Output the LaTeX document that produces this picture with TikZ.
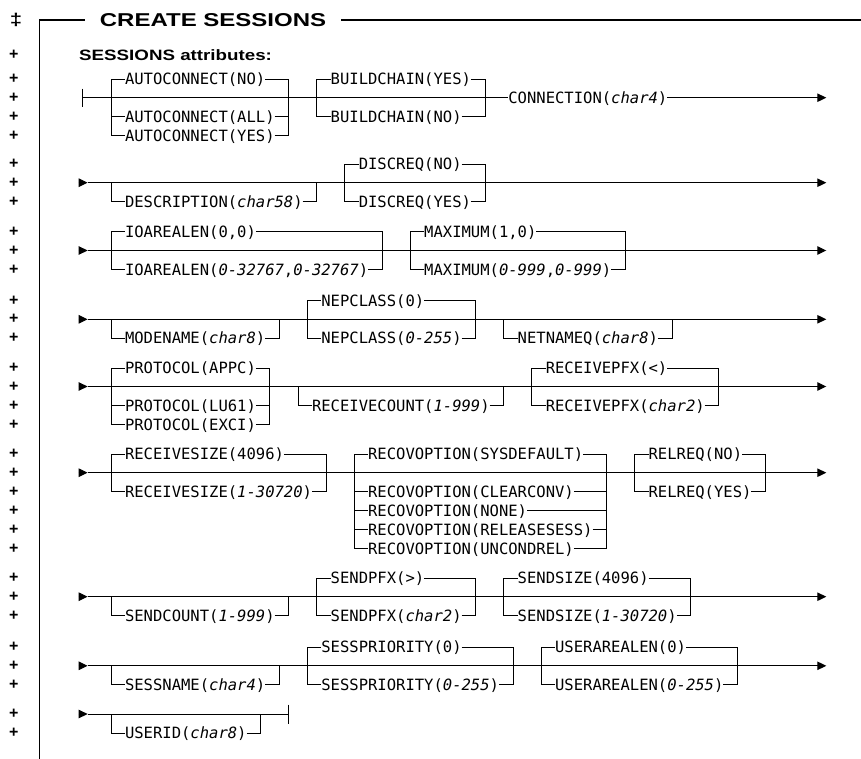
\documentclass[tikz,border=0pt]{standalone}
\usepackage{fontspec}
\usepackage{graphicx}
\usepackage{tikz}
\usetikzlibrary{arrows.meta}
\newfontfamily\railfont{DejaVu Sans Mono}
\newfontfamily\headfont{Liberation Sans}
\tikzset{
  rail/.style={draw=black,line width=1pt},
  frame/.style={draw=black,line width=1.6pt},
  opt/.style={font=\railfont\fontsize{15.53}{18}\selectfont,inner sep=0pt,outer sep=0pt,
    text height=11.3pt,text depth=0pt,anchor=west},
  chg/.style={font=\headfont\bfseries\fontsize{16}{18}\selectfont,inner sep=0pt,
    text height=9pt,text depth=0pt},
  endtip/.style={-{Triangle[length=9pt,width=8.5pt]}}
}

\begin{document}
\begin{tikzpicture}[x=9.35pt,y=-1pt]
        \useasboundingbox (-11.8717,0) rectangle (80.2139,759);
        \node[inner xsep=15pt,inner ysep=0pt,text height=13.3pt,text depth=0pt,
          font=\headfont\bfseries\fontsize{18.6}{22}\selectfont] (title) at (10.909,20.3)
          {\scalebox{1.29}[1]{CREATE SESSIONS}};
        \coordinate (fbot) at (-7.668,759);
        \coordinate (fend) at (80.2139,20.3);
        \draw[frame] (fbot) |- (title);
        \draw[frame] (title) -- (fend);
        \node[inner sep=0pt,text height=12pt,text depth=0pt,
          font=\headfont\bfseries\fontsize{17}{19}\selectfont] (dd) at (-10.16,19.5) {\scalebox{1.3}[1]{‡}};
        \foreach \y [count=\i] in {55,79.2,97.7,116.7,135.7,164.2,182.7,201.7,232,250.5,269.5,
          300.8,319.3,338.3,368,386.5,405.5,424.5,454.2,472.7,491.7,510.7,529.7,548.7,
          578.2,596.7,615.7,647.3,665.8,684.8,714,733}
          \node[chg] (pl\i) at (-10.4,\y) {+};
        \node[anchor=base west,inner sep=0pt,font=\headfont\bfseries\fontsize{15}{18}\selectfont]
          (sub) at (-3.42,60.7) {\scalebox{1.25}[1]{SESSIONS attributes:}};

        \coordinate (r1s) at (-3,97.7);
        \coordinate (r1e) at (76.5,97.7);
        \coordinate (acL) at (0,97.7);
        \coordinate (acR) at (19,97.7);
        \coordinate (bcL) at (22,97.7);
        \coordinate (bcR) at (40,97.7);
        \node[opt] (acNO) at (1.5,79.2) {AUTOCONNECT(NO)};
        \node[opt] (acALL) at (1.5,116.7) {AUTOCONNECT(ALL)};
        \node[opt] (acYES) at (1.5,135.7) {AUTOCONNECT(YES)};
        \node[opt] (bcYES) at (23.5,79.2) {BUILDCHAIN(YES)};
        \node[opt] (bcNO) at (23.5,116.7) {BUILDCHAIN(NO)};
        \node[opt] (conn) at (42.5,97.7) {CONNECTION(\textit{char4})};
        \draw[rail] ([yshift=9pt]r1s) -- ([yshift=-9pt]r1s);
        \draw[rail,endtip] (r1s) -- (conn) -- (r1e);

        \coordinate (r2a) at (-3.46,182.7);
        \coordinate (r2s) at (-2.5,182.7);
        \coordinate (r2e) at (76.5,182.7);
        \coordinate (deL) at (0,182.7);
        \coordinate (deR) at (22,182.7);
        \coordinate (dqL) at (25,182.7);
        \coordinate (dqR) at (40,182.7);
        \node[opt] (deVAL) at (1.5,201.7) {DESCRIPTION(\textit{char58})};
        \node[opt] (dqNO) at (26.5,164.2) {DISCREQ(NO)};
        \node[opt] (dqYES) at (26.5,201.7) {DISCREQ(YES)};

        \coordinate (r3a) at (-3.46,250.5);
        \coordinate (r3s) at (-2.5,250.5);
        \coordinate (r3e) at (76.5,250.5);
        \coordinate (ioL) at (0,250.5);
        \coordinate (ioR) at (29,250.5);
        \coordinate (mxL) at (32,250.5);
        \coordinate (mxR) at (55,250.5);
        \node[opt] (ioDEF) at (1.5,232) {IOAREALEN(0,0)};
        \node[opt] (ioVAL) at (1.5,269.5) {IOAREALEN(\textit{0-32767},\textit{0-32767})};
        \node[opt] (mxDEF) at (33.5,232) {MAXIMUM(1,0)};
        \node[opt] (mxVAL) at (33.5,269.5) {MAXIMUM(\textit{0-999},\textit{0-999})};

        \coordinate (r4a) at (-3.46,319.3);
        \coordinate (r4s) at (-2.5,319.3);
        \coordinate (r4e) at (76.5,319.3);
        \coordinate (mnL) at (0,319.3);
        \coordinate (mnR) at (18,319.3);
        \coordinate (ncL) at (21,319.3);
        \coordinate (ncR) at (39,319.3);
        \coordinate (nqL) at (42,319.3);
        \coordinate (nqR) at (60,319.3);
        \node[opt] (mnVAL) at (1.5,338.3) {MODENAME(\textit{char8})};
        \node[opt] (ncDEF) at (22.5,300.8) {NEPCLASS(0)};
        \node[opt] (ncVAL) at (22.5,338.3) {NEPCLASS(\textit{0-255})};
        \node[opt] (nqVAL) at (43.5,338.3) {NETNAMEQ(\textit{char8})};

        \coordinate (r5a) at (-3.46,386.5);
        \coordinate (r5s) at (-2.5,386.5);
        \coordinate (r5e) at (76.5,386.5);
        \coordinate (prL) at (0,386.5);
        \coordinate (prR) at (17,386.5);
        \coordinate (rcL) at (20,386.5);
        \coordinate (rcR) at (42,386.5);
        \coordinate (rpL) at (45,386.5);
        \coordinate (rpR) at (65,386.5);
        \node[opt] (prAPPC) at (1.5,368) {PROTOCOL(APPC)};
        \node[opt] (prLU) at (1.5,405.5) {PROTOCOL(LU61)};
        \node[opt] (prEXCI) at (1.5,424.5) {PROTOCOL(EXCI)};
        \node[opt] (rcVAL) at (21.5,405.5) {RECEIVECOUNT(\textit{1-999})};
        \node[opt] (rpDEF) at (46.5,368) {RECEIVEPFX(<)};
        \node[opt] (rpVAL) at (46.5,405.5) {RECEIVEPFX(\textit{char2})};

        \coordinate (r6a) at (-3.46,472.7);
        \coordinate (r6s) at (-2.5,472.7);
        \coordinate (r6e) at (76.5,472.7);
        \coordinate (rsL) at (0,472.7);
        \coordinate (rsR) at (23,472.7);
        \coordinate (roL) at (26,472.7);
        \coordinate (roR) at (53,472.7);
        \coordinate (rlL) at (56,472.7);
        \coordinate (rlR) at (70,472.7);
        \node[opt] (rsDEF) at (1.5,454.2) {RECEIVESIZE(4096)};
        \node[opt] (rsVAL) at (1.5,491.7) {RECEIVESIZE(\textit{1-30720})};
        \node[opt] (roSYS) at (27.5,454.2) {RECOVOPTION(SYSDEFAULT)};
        \node[opt] (roCLR) at (27.5,491.7) {RECOVOPTION(CLEARCONV)};
        \node[opt] (roNONE) at (27.5,510.7) {RECOVOPTION(NONE)};
        \node[opt] (roREL) at (27.5,529.7) {RECOVOPTION(RELEASESESS)};
        \node[opt] (roUNC) at (27.5,548.7) {RECOVOPTION(UNCONDREL)};
        \node[opt] (rlNO) at (57.5,454.2) {RELREQ(NO)};
        \node[opt] (rlYES) at (57.5,491.7) {RELREQ(YES)};

        \coordinate (r7a) at (-3.46,596.7);
        \coordinate (r7s) at (-2.5,596.7);
        \coordinate (r7e) at (76.5,596.7);
        \coordinate (scL) at (0,596.7);
        \coordinate (scR) at (19,596.7);
        \coordinate (spL) at (22,596.7);
        \coordinate (spR) at (39,596.7);
        \coordinate (ssL) at (42,596.7);
        \coordinate (ssR) at (62,596.7);
        \node[opt] (scVAL) at (1.5,615.7) {SENDCOUNT(\textit{1-999})};
        \node[opt] (spDEF) at (23.5,578.2) {SENDPFX(>)};
        \node[opt] (spVAL) at (23.5,615.7) {SENDPFX(\textit{char2})};
        \node[opt] (ssDEF) at (43.5,578.2) {SENDSIZE(4096)};
        \node[opt] (ssVAL) at (43.5,615.7) {SENDSIZE(\textit{1-30720})};

        \coordinate (r8a) at (-3.46,665.8);
        \coordinate (r8s) at (-2.5,665.8);
        \coordinate (r8e) at (76.5,665.8);
        \coordinate (snL) at (0,665.8);
        \coordinate (snR) at (18,665.8);
        \coordinate (pyL) at (21,665.8);
        \coordinate (pyR) at (43,665.8);
        \coordinate (uaL) at (46,665.8);
        \coordinate (uaR) at (67,665.8);
        \node[opt] (snVAL) at (1.5,684.8) {SESSNAME(\textit{char4})};
        \node[opt] (pyDEF) at (22.5,647.3) {SESSPRIORITY(0)};
        \node[opt] (pyVAL) at (22.5,684.8) {SESSPRIORITY(\textit{0-255})};
        \node[opt] (uaDEF) at (47.5,647.3) {USERAREALEN(0)};
        \node[opt] (uaVAL) at (47.5,684.8) {USERAREALEN(\textit{0-255})};

        \coordinate (r9a) at (-3.46,714);
        \coordinate (r9s) at (-2.5,714);
        \coordinate (r9e) at (19,714);
        \coordinate (uiL) at (0,714);
        \coordinate (uiR) at (16,714);
        \node[opt] (uiVAL) at (1.5,733) {USERID(\textit{char8})};
        \draw[rail] ([yshift=9.5pt]r9e) -- ([yshift=-9.5pt]r9e);
        \draw[rail] (r9s) -- (r9e);

        \foreach \r in {2,...,9}
          \draw[rail,endtip] (r\r a) -- (r\r s);
        \foreach \r in {2,...,8}
          \draw[rail,endtip] (r\r s) -- (r\r e);
        \foreach \n/\a/\b in {acNO/acL/acR,acALL/acL/acR,acYES/acL/acR,bcYES/bcL/bcR,bcNO/bcL/bcR,
          deVAL/deL/deR,dqNO/dqL/dqR,dqYES/dqL/dqR,ioDEF/ioL/ioR,ioVAL/ioL/ioR,mxDEF/mxL/mxR,mxVAL/mxL/mxR,
          mnVAL/mnL/mnR,ncDEF/ncL/ncR,ncVAL/ncL/ncR,nqVAL/nqL/nqR,
          prAPPC/prL/prR,prLU/prL/prR,prEXCI/prL/prR,rcVAL/rcL/rcR,rpDEF/rpL/rpR,rpVAL/rpL/rpR,
          rsDEF/rsL/rsR,rsVAL/rsL/rsR,roSYS/roL/roR,roCLR/roL/roR,roNONE/roL/roR,roREL/roL/roR,roUNC/roL/roR,
          rlNO/rlL/rlR,rlYES/rlL/rlR,scVAL/scL/scR,spDEF/spL/spR,spVAL/spL/spR,ssDEF/ssL/ssR,ssVAL/ssL/ssR,
          snVAL/snL/snR,pyDEF/pyL/pyR,pyVAL/pyL/pyR,uaDEF/uaL/uaR,uaVAL/uaL/uaR,uiVAL/uiL/uiR}
          \draw[rail] (\a) |- (\n) -| (\b);
      \end{tikzpicture}
\end{document}
